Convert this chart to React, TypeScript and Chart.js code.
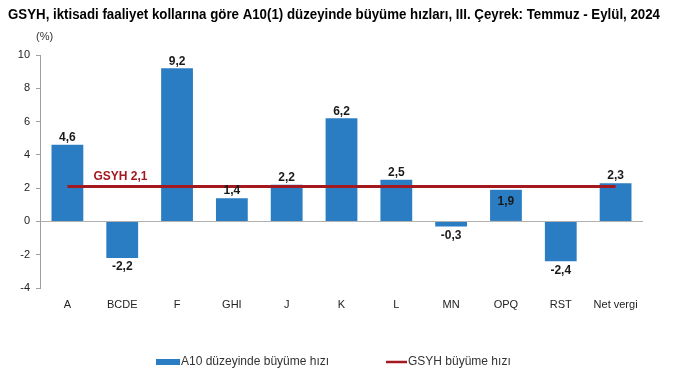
import React, { useEffect, useRef } from "react";
import { Chart, registerables } from "chart.js";

Chart.register(...registerables);

const TITLE = "GSYH, iktisadi faaliyet kollarına göre A10(1) düzeyinde büyüme hızları, III. Çeyrek: Temmuz - Eylül, 2024";
const UNIT_LABEL = "(%)";
const categories = ["A", "BCDE", "F", "GHI", "J", "K", "L", "MN", "OPQ", "RST", "Net vergi"];
const sectorGrowth = [4.6, -2.2, 9.2, 1.4, 2.2, 6.2, 2.5, -0.3, 1.9, -2.4, 2.3];
const gdpGrowth = [2.1, 2.1, 2.1, 2.1, 2.1, 2.1, 2.1, 2.1, 2.1, 2.1, 2.1];
const gdpLabel = "GSYH 2,1";
const labelInside = [false, false, false, false, false, false, false, false, true, false, false];
const barSeriesName = "A10 düzeyinde büyüme hızı";
const lineSeriesName = "GSYH büyüme hızı";
const yMin = -4;
const yMax = 10;
const yStep = 2;

const BLUE = "#2b7dc3";
const RED = "#a3191f";
const FONT = "'Liberation Sans', Arial, sans-serif";

const fmt = (v: number) => v.toFixed(1).replace(".", ",");

const decorPlugin = {
  id: "decor",
  afterDatasetsDraw(chart: any) {
    const ctx = chart.ctx;
    const xs = chart.scales.x;
    const ys = chart.scales.y;
    const meta = chart.getDatasetMeta(1);
    ctx.save();
    ctx.font = `bold 12px ${FONT}`;
    ctx.fillStyle = "#1a1a1a";
    ctx.textAlign = "center";
    meta.data.forEach((el: any, i: number) => {
      const v = sectorGrowth[i];
      const txt = fmt(v);
      if (labelInside[i]) {
        ctx.textBaseline = "middle";
        ctx.fillText(txt, el.x, el.y + 12);
      } else if (v >= 0) {
        ctx.textBaseline = "middle";
        ctx.fillText(txt, el.x, el.y - 7);
      } else {
        ctx.textBaseline = "middle";
        ctx.fillText(txt, el.x, el.y + 9);
      }
    });
    // GSYH label
    ctx.font = `bold 12px ${FONT}`;
    ctx.fillStyle = RED;
    ctx.textAlign = "left";
    ctx.textBaseline = "middle";
    ctx.fillText(gdpLabel, xs.getPixelForValue(0) + 26, ys.getPixelForValue(gdpGrowth[0]) - 10);
    ctx.restore();
  },
  afterDraw(chart: any) {
    const ctx = chart.ctx;
    ctx.save();
    // title (condensed to the original's narrow face)
    ctx.font = `bold 14px ${FONT}`;
    ctx.fillStyle = "#000";
    ctx.textAlign = "left";
    ctx.textBaseline = "alphabetic";
    const w = ctx.measureText(TITLE).width;
    const sx = 652 / w;
    ctx.save();
    ctx.translate(8, 19);
    ctx.scale(sx, 1);
    ctx.fillText(TITLE, 0, 0);
    ctx.restore();
    // unit label
    ctx.font = `11px ${FONT}`;
    ctx.fillStyle = "#333";
    ctx.textBaseline = "middle";
    ctx.fillText(UNIT_LABEL, 36, 37);
    // legend
    const ly = 362;
    ctx.font = `12px ${FONT}`;
    ctx.fillStyle = BLUE;
    ctx.fillRect(156, ly - 3, 24, 6);
    ctx.fillStyle = "#333";
    ctx.fillText(barSeriesName, 181, ly);
    ctx.strokeStyle = RED;
    ctx.lineWidth = 2.5;
    ctx.beginPath();
    ctx.moveTo(386, ly);
    ctx.lineTo(407, ly);
    ctx.stroke();
    ctx.fillText(lineSeriesName, 408, ly);
    ctx.restore();
  },
};

export default function App() {
  const ref = useRef<HTMLCanvasElement | null>(null);
  useEffect(() => {
    document.body.style.margin = "0";
    if (!ref.current) return;
    Chart.defaults.font.family = FONT;
    const chart = new Chart(ref.current, {
      type: "bar",
      data: {
        labels: categories,
        datasets: [
          {
            type: "line" as const,
            label: lineSeriesName,
            data: gdpGrowth,
            borderColor: RED,
            backgroundColor: RED,
            borderWidth: 3,
            pointRadius: 0,
            order: 1,
          },
          {
            type: "bar" as const,
            label: barSeriesName,
            data: sectorGrowth,
            backgroundColor: BLUE,
            categoryPercentage: 1,
            barPercentage: 0.58,
            order: 2,
          },
        ] as any,
      },
      options: {
        animation: false,
        responsive: false,
        layout: { padding: { left: 8, right: 47, top: 55, bottom: 53 } },
        plugins: {
          legend: { display: false },
          title: { display: false },
          tooltip: { enabled: false },
        },
        scales: {
          x: {
            grid: { display: false, drawTicks: false },
            border: { display: false },
            ticks: { font: { size: 11 }, color: "#222", padding: 10, maxRotation: 0, autoSkip: false },
            afterFit: (s: any) => { s.height = 30; },
          },
          y: {
            min: yMin,
            max: yMax,
            ticks: { stepSize: yStep, font: { size: 11 }, color: "#222", padding: 6 },
            grid: {
              color: (c: any) => (c.tick && c.tick.value === 0 ? "#b0b0b0" : "rgba(0,0,0,0)"),
              tickColor: "#a0a0a0",
              tickLength: 4,
              lineWidth: 1,
            },
            border: { display: true, color: "#a0a0a0" },
            afterFit: (s: any) => { s.width = 32; },
          },
        },
      },
      plugins: [decorPlugin],
    });
    return () => chart.destroy();
  }, []);
  return (
    <div style={{ width: 690, height: 371, background: "#fff" }}>
      <canvas ref={ref} width={690} height={371} />
    </div>
  );
}
